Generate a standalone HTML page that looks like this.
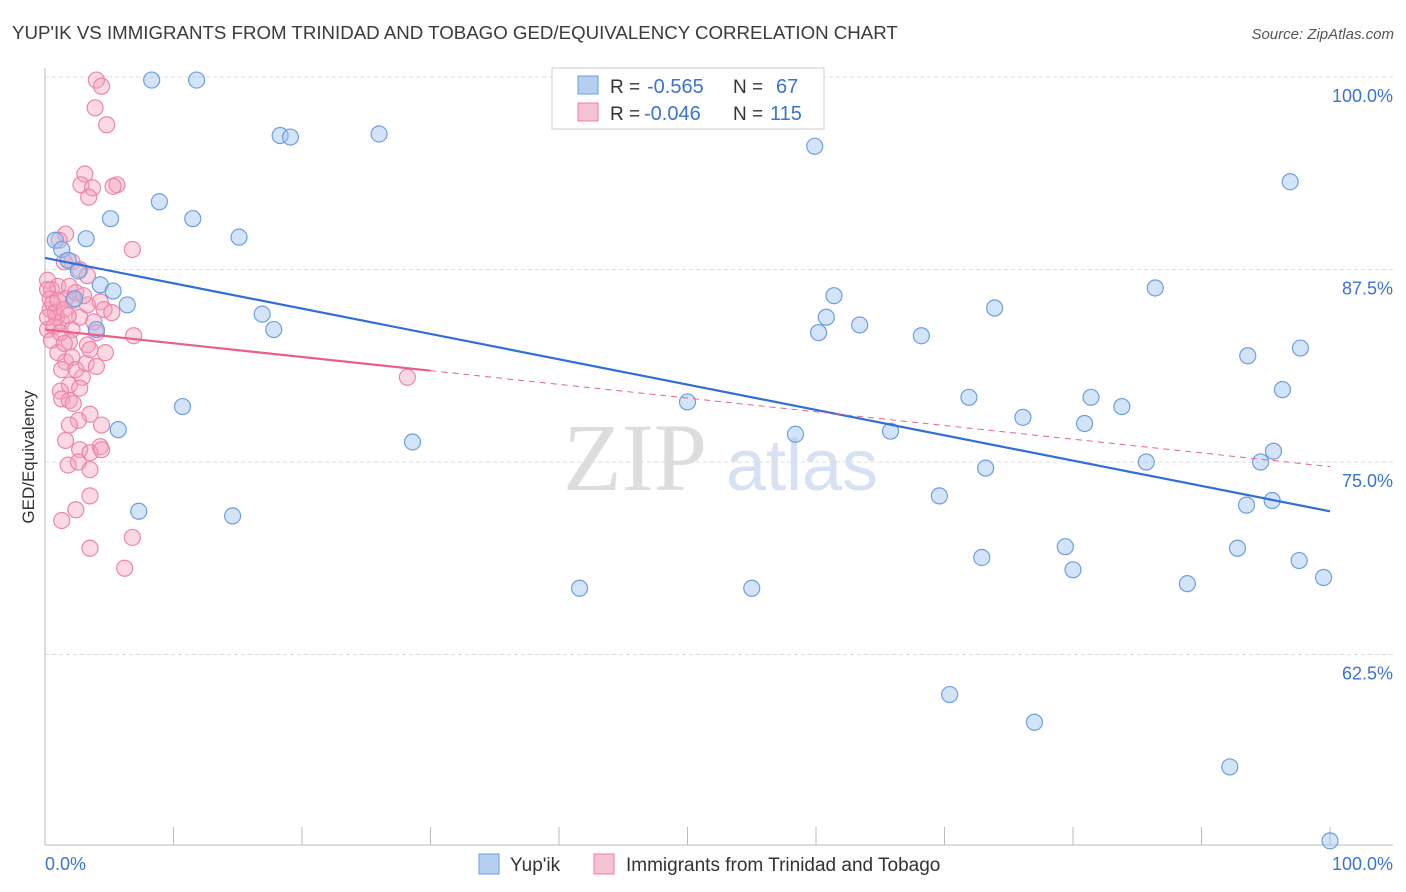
<!DOCTYPE html>
<html><head><meta charset="utf-8">
<style>
body{margin:0;background:#fff;font-family:"Liberation Sans",sans-serif;}
svg{display:block}
</style></head><body>
<svg id="chart" width="1406" height="892" xmlns="http://www.w3.org/2000/svg">
<text x="12" y="39" font-size="18.7" fill="#3a3a3a">YUP'IK VS IMMIGRANTS FROM TRINIDAD AND TOBAGO GED/EQUIVALENCY CORRELATION CHART</text>
<text x="1394" y="39" font-size="15" fill="#555" text-anchor="end" font-style="italic">Source: ZipAtlas.com</text>
<g>
<text x="635" y="490" font-size="96" fill="#ddd" font-family="Liberation Serif" text-anchor="middle">ZIP</text>
<text x="802" y="490" font-size="72" fill="#d6e2f3" text-anchor="middle">atlas</text>
</g>
<g id="grid"></g>
<g id="axes"></g>
<g id="marks"></g>
<g>
<rect x="552" y="68" width="272" height="61" fill="#fff" stroke="#ccc"/>
<rect x="578" y="76" width="20" height="18" fill="#b5cff3" stroke="#6b9fe0"/>
<text x="610" y="93" font-size="19" fill="#333">R =</text>
<text x="647" y="93" font-size="20" fill="#3b73d0">-0.565</text>
<text x="733" y="93" font-size="19" fill="#333">N =</text>
<text x="776" y="93" font-size="20" fill="#3b73d0">67</text>
<rect x="578" y="103" width="20" height="18" fill="#f7c3d3" stroke="#ec7ca0"/>
<text x="610" y="120" font-size="19" fill="#333">R =</text>
<text x="644" y="120" font-size="20" fill="#3b73d0">-0.046</text>
<text x="733" y="120" font-size="19" fill="#333">N =</text>
<text x="770" y="120" font-size="20" fill="#3b73d0">115</text>
</g>
<g>
<rect x="479" y="854" width="20" height="20" fill="#b5cff3" stroke="#6b9fe0"/>
<text x="510" y="871" font-size="19" fill="#333">Yup'ik</text>
<rect x="594" y="854" width="20" height="20" fill="#f7c3d3" stroke="#ec7ca0"/>
<text x="626" y="871" font-size="19" fill="#333">Immigrants from Trinidad and Tobago</text>
</g>
<text transform="translate(34,457) rotate(-90)" font-size="17" fill="#333" text-anchor="middle">GED/Equivalency</text>
</svg>
<script>
const yTicks=[100,87.5,75,62.5];
const yTickLabels=["100.0%","87.5%","75.0%","62.5%"];
const blueX=[8.3,11.8,18.3,19.1,26.0,59.9,96.9,8.9,5.1,11.5,15.1,0.8,3.2,1.3,1.8,2.6,4.3,5.3,6.4,2.3,4.0,16.9,17.8,61.4,60.8,60.2,63.4,68.2,73.9,86.4,93.6,97.7,96.3,71.9,76.1,81.4,83.8,80.9,50.0,65.8,58.4,10.7,5.7,28.6,85.7,94.6,95.6,73.2,69.6,93.5,95.5,7.3,14.6,79.4,72.9,80.0,92.8,97.6,99.5,88.9,41.6,55.0,70.4,77.0,92.2,100];
const blueY=[99.8,99.8,96.2,96.1,96.3,95.5,93.2,91.9,90.8,90.8,89.6,89.4,89.5,88.8,88.1,87.4,86.5,86.1,85.2,85.6,83.6,84.6,83.6,85.8,84.4,83.4,83.9,83.2,85.0,86.3,81.9,82.4,79.7,79.2,77.9,79.2,78.6,77.5,78.9,77.0,76.8,78.6,77.1,76.3,75.0,75.0,75.7,74.6,72.8,72.2,72.5,71.8,71.5,69.5,68.8,68.0,69.4,68.6,67.5,67.1,66.8,66.8,59.9,58.1,55.2,50.4];
const pinkX=[4.0,4.4,3.9,4.8,3.1,2.8,3.7,5.6,5.3,3.4,6.8,1.6,1.1,2.1,1.5,0.2,0.5,1.0,1.9,2.7,3.3,1.6,2.2,3.3,4.3,4.6,5.2,0.4,0.9,1.3,2.1,2.7,3.8,0.2,0.5,1.9,3.3,4.0,4.7,6.9,1.0,1.6,1.3,2.1,2.9,1.9,2.7,1.2,1.3,1.9,2.2,3.5,2.6,1.9,4.4,1.6,2.7,4.3,3.5,4.4,1.8,2.6,3.5,3.5,2.4,1.3,6.8,3.5,6.2,28.2,0.2,0.4,0.6,0.8,0.2,0.7,1.2,1.0,1.5,1.8,2.4,3.0,1.5,2.4,3.2,3.5,4.0];
const pinkY=[99.8,99.4,98.0,96.9,93.7,93.0,92.8,93.0,92.9,92.2,88.8,89.8,89.4,88.0,88.0,86.8,86.2,86.4,86.4,87.5,87.1,85.6,85.5,85.2,85.4,84.9,84.7,84.9,84.4,84.1,83.6,84.4,84.1,83.6,82.9,82.8,82.6,83.4,82.1,83.2,82.1,81.5,81.0,81.8,80.5,80.0,79.8,79.6,79.1,79.0,78.8,78.1,77.7,77.4,77.4,76.4,75.8,76.0,75.6,75.8,74.8,75.0,74.5,72.8,71.9,71.2,70.1,69.4,68.1,80.5,86.2,85.6,85.3,84.7,84.4,83.8,83.4,85.5,84.9,84.5,86.0,85.8,82.7,81.0,81.4,82.3,81.2];
const blueTrend=[88.25,71.8];
const pinkTrend=[83.6,74.7];
const pinkSolidEnd=30;

const X0=45,X1=1330,YT=77,YB=847;
const xs=v=>X0+(X1-X0)*v/100;
const ys=v=>YT+(100-v)/50*(YB-YT);
const NS="http://www.w3.org/2000/svg";
function mk(t,a,p){const e=document.createElementNS(NS,t);for(const k in a)e.setAttribute(k,a[k]);p.appendChild(e);return e;}
const grid=document.getElementById('grid'),axes=document.getElementById('axes'),marks=document.getElementById('marks');
yTicks.forEach((t,i)=>{
 const l=mk('line',{x1:X0,x2:1393,y1:ys(t),y2:ys(t),stroke:'#ddd','stroke-dasharray':'4,3'},grid);
 
 
 const tx=mk('text',{x:1393,y:ys(t)+25,'font-size':18,fill:'#3b73d0','text-anchor':'end'},axes);
 tx.textContent=yTickLabels[i];
 
 
});
mk('line',{x1:X0,x2:X0,y1:68,y2:845,stroke:'#bbb'},axes);
mk('line',{x1:X0,x2:1393,y1:845,y2:845,stroke:'#bbb'},axes);
for(let i=0;i<=10;i++){const t=mk('line',{x1:xs(i*10),x2:xs(i*10),y1:827,y2:845,stroke:'#bbb'},axes);
 
 }
const xl0=mk('text',{x:45,y:870,'font-size':18,fill:'#3b73d0'},axes);xl0.textContent='0.0%';


const xl1=mk('text',{x:1393,y:870,'font-size':18,fill:'#3b73d0','text-anchor':'end'},axes);xl1.textContent='100.0%';


pinkX.forEach((v,i)=>{const c=mk('circle',{cx:xs(v),cy:ys(pinkY[i]),r:8,fill:'rgba(244,160,188,0.4)',stroke:'#ec86a8','stroke-width':1.2},marks);
 
 });
blueX.forEach((v,i)=>{const c=mk('circle',{cx:xs(v),cy:ys(blueY[i]),r:8,fill:'rgba(160,196,240,0.45)',stroke:'#6b9fe0','stroke-width':1.2},marks);
 
 });
const bt=mk('line',{x1:xs(0),y1:ys(blueTrend[0]),x2:xs(100),y2:ys(blueTrend[1]),stroke:'#2f6fd6','stroke-width':2.2},marks);


const pm=pinkTrend[0]+(pinkTrend[1]-pinkTrend[0])*pinkSolidEnd/100;
const pt=mk('line',{x1:xs(0),y1:ys(pinkTrend[0]),x2:xs(pinkSolidEnd),y2:ys(pm),stroke:'#e8608a','stroke-width':2.2},marks);


const pd=mk('line',{x1:xs(pinkSolidEnd),y1:ys(pm),x2:xs(100),y2:ys(pinkTrend[1]),stroke:'#e8608a','stroke-width':1,'stroke-dasharray':'6,5'},marks);


</script>
</body></html>
